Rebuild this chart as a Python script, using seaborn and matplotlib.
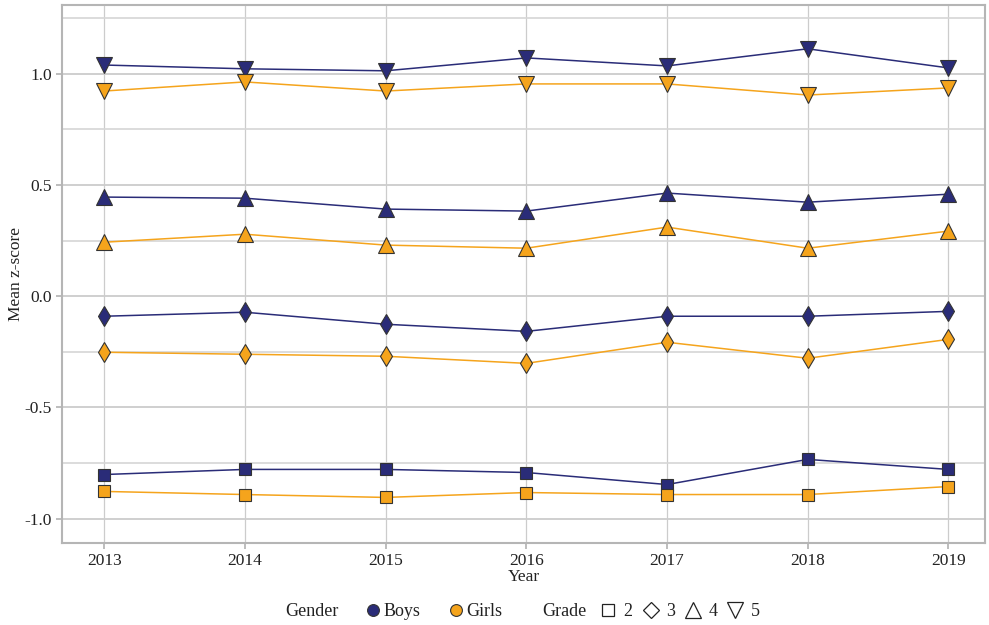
import matplotlib
matplotlib.use("Agg")
import matplotlib.pyplot as plt
from matplotlib.lines import Line2D
from matplotlib.ticker import MultipleLocator
import seaborn as sns
import pandas as pd

years = [2013, 2014, 2015, 2016, 2017, 2018, 2019]
genders = ["Boys", "Girls"]
grades = ["2", "3", "4", "5"]

boys_g2 = [-0.802, -0.779, -0.779, -0.793, -0.847, -0.734, -0.779]
girls_g2 = [-0.878, -0.892, -0.905, -0.883, -0.892, -0.892, -0.856]
boys_g3 = [-0.090, -0.072, -0.126, -0.158, -0.090, -0.090, -0.068]
girls_g3 = [-0.252, -0.261, -0.270, -0.302, -0.207, -0.279, -0.194]
boys_g4 = [0.446, 0.441, 0.392, 0.383, 0.464, 0.423, 0.459]
girls_g4 = [0.243, 0.279, 0.230, 0.216, 0.311, 0.216, 0.293]
boys_g5 = [1.040, 1.023, 1.014, 1.072, 1.036, 1.113, 1.027]
girls_g5 = [0.923, 0.964, 0.923, 0.955, 0.955, 0.905, 0.937]

series = {
    ("Boys", "2"): boys_g2, ("Girls", "2"): girls_g2,
    ("Boys", "3"): boys_g3, ("Girls", "3"): girls_g3,
    ("Boys", "4"): boys_g4, ("Girls", "4"): girls_g4,
    ("Boys", "5"): boys_g5, ("Girls", "5"): girls_g5,
}
rows = []
for (g, gr), vals in series.items():
    for y, v in zip(years, vals):
        rows.append({"Year": y, "Gender": g, "Grade": gr, "z": v})
df = pd.DataFrame(rows)

sns.set_theme(style="white")
plt.rcParams["font.family"] = ["Liberation Serif", "DejaVu Serif"]

palette = {"Boys": "#2a2c78", "Girls": "#f5a41c"}
markers = {"2": "s", "3": "d", "4": "^", "5": "v"}
msize = {"s": 9, "d": 10, "^": 12, "v": 12}

W, H = 989, 625
fig = plt.figure(figsize=(W/100, H/100), dpi=100)
ax = fig.add_axes([62/W, 1-543/H, (985-62)/W, (543-5)/H])

sns.lineplot(data=df, x="Year", y="z", hue="Gender", style="Grade",
             palette=palette, markers=markers, dashes=False, ax=ax,
             linewidth=1.1, markeredgecolor="#333333", markeredgewidth=0.8,
             legend=False, hue_order=genders, style_order=grades)
for ln in ax.lines:
    m = ln.get_marker()
    if m in msize:
        ln.set_markersize(msize[m])
        ln.set_zorder(3)

ax.set_xlim(2012.70, 2019.26)
ax.set_ylim(-1.11, 1.31)
ax.set_xticks(years)
ax.set_xticklabels([str(y) for y in years])
ax.yaxis.set_major_locator(MultipleLocator(0.5))
ax.yaxis.set_minor_locator(MultipleLocator(0.25))
ax.set_yticklabels([f"{t:.1f}" for t in ax.get_yticks()])
ax.grid(True, which="major", axis="y", color="#cccccc", linewidth=1.3)
ax.grid(True, which="minor", axis="y", color="#d6d6d6", linewidth=1.2)
ax.grid(True, which="major", axis="x", color="#cccccc", linewidth=0.9)
ax.set_axisbelow(True)
for s in ax.spines.values():
    s.set_color("#b5b5b5")
    s.set_linewidth(1.5)
ax.tick_params(axis="both", which="major", length=4, color="#b5b5b5",
               labelsize=12.5, labelcolor="#222222", bottom=True, left=True)
ax.tick_params(axis="y", which="minor", length=0)
ax.set_xlabel("Year", fontsize=12.5, color="#222222", labelpad=0)
ax.set_ylabel("Mean z-score", fontsize=12.5, color="#222222")
ax.yaxis.set_label_coords(-0.041, 0.5)

# Legend: titles as text, entries as two legends
ly = 1 - 612/H
fs = 13
fig.text(285/W, ly, "Gender", fontsize=fs, color="#222222", ha="left", va="center")
fig.text(542/W, ly, "Grade", fontsize=fs, color="#222222", ha="left", va="center")

g_handles = [Line2D([], [], linestyle="none", marker="o", markersize=8.5,
                    markerfacecolor=palette[g], markeredgecolor="#333333",
                    markeredgewidth=0.8) for g in genders]
leg1 = fig.legend(g_handles, genders, loc="center left", bbox_to_anchor=(366/W, ly),
                  ncol=2, frameon=False, fontsize=fs, borderpad=0, borderaxespad=0,
                  handlelength=0.8, handletextpad=0.15, columnspacing=1.6)

legend_marker = {"s": "s", "d": "D", "^": "^", "v": "v"}
legend_msize = {"s": 8, "d": 8, "^": 11, "v": 11}
s_handles = [Line2D([], [], linestyle="none", marker=legend_marker[markers[gr]],
                    markersize=legend_msize[markers[gr]], markerfacecolor="none",
                    markeredgecolor="#222222", markeredgewidth=0.9) for gr in grades]
leg2 = fig.legend(s_handles, grades, loc="center left", bbox_to_anchor=(601/W, ly),
                  ncol=4, frameon=False, fontsize=fs, borderpad=0, borderaxespad=0,
                  handlelength=0.8, handletextpad=0.45, columnspacing=0.6)
for lg in (leg1, leg2):
    for t in lg.get_texts():
        t.set_color("#222222")

fig.savefig("out.png", dpi=100)
